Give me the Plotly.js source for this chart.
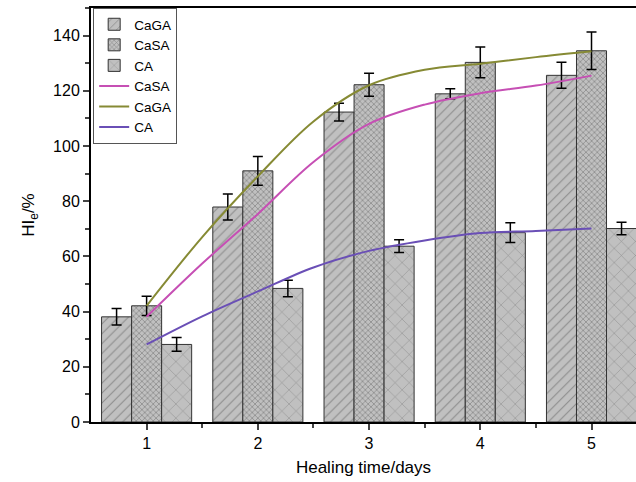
<!DOCTYPE html>
<html><head><meta charset="utf-8">
<script src="https://cdn.plot.ly/plotly-3.0.1.min.js"></script>
<style>html,body{margin:0;padding:0;background:#fff;}#chart{width:636px;height:482px;}</style>
</head><body><div id="chart"></div>
<script>
const days = [1, 2, 3, 4, 5];
const caGA = [38.1, 77.9, 112.3, 118.9, 125.6];
const caGAErr = [3.0, 4.7, 3.2, 1.8, 4.7];
const caSA = [42.1, 91.0, 122.2, 130.3, 134.5];
const caSAErr = [3.5, 5.2, 4.2, 5.6, 6.8];
const cA = [28.1, 48.4, 63.7, 68.6, 70.1];
const cAErr = [2.5, 3.0, 2.3, 3.6, 2.3];

const fitX = [1, 1.5, 2, 2.5, 3, 3.5, 4, 4.5, 5];
const fitCaSA = [38.1, 57.4, 75.4, 94.2, 108.0, 115.0, 119.1, 121.9, 125.5];
const fitCaGA = [42.1, 67.0, 89.0, 108.9, 122.0, 127.6, 129.8, 132.2, 134.3];
const fitCA = [28.1, 38.3, 47.3, 56.0, 62.0, 65.8, 68.5, 69.2, 70.1];

const barLine = {color: '#333333', width: 1};
function barTrace(name, y, err, shape, size, solidity, fg) {
  return {
    type: 'bar', name: name, x: days, y: y,
    marker: {color: '#c0c0c0', line: barLine,
      pattern: {shape: shape, size: size, solidity: solidity, fgcolor: fg, bgcolor: '#c0c0c0', fillmode: 'overlay'}},
    error_y: {type: 'data', array: err, visible: true, color: '#000000', thickness: 1.5, width: 5}
  };
}
function lineTrace(name, y, color) {
  return {type: 'scatter', mode: 'lines', name: name, x: fitX, y: y,
    line: {color: color, width: 2, shape: 'spline', smoothing: 1}};
}
const data = [
  barTrace('CaGA', caGA, caGAErr, '/', 7, 0.15, '#555555'),
  barTrace('CaSA', caSA, caSAErr, 'x', 4, 0.35, '#555555'),
  barTrace('CA', cA, cAErr, 'x', 10, 0.1, '#555555'),
  lineTrace('CaSA', fitCaSA, '#c64fb4'),
  lineTrace('CaGA', fitCaGA, '#868a34'),
  lineTrace('CA', fitCA, '#6a4fb6')
];
const layout = {
  width: 636, height: 482,
  margin: {l: 91, r: 0, t: 8, b: 60},
  paper_bgcolor: '#ffffff', plot_bgcolor: '#ffffff',
  font: {family: 'Liberation Sans, Arial, sans-serif', color: '#000000', size: 16},
  barmode: 'group', bargap: 0.19, bargroupgap: 0,
  showlegend: true,
  legend: {x: 0.004, y: 1, xanchor: 'left', yanchor: 'top', bgcolor: '#ffffff',
    bordercolor: '#555555', borderwidth: 1, font: {size: 13.5}, tracegroupgap: 0,
    traceorder: 'normal', itemwidth: 30},
  xaxis: {range: [0.5, 5.4], tickvals: days, ticks: 'outside', ticklen: 6, tickwidth: 2,
    showline: true, linewidth: 2, linecolor: '#000000', mirror: true, showgrid: false, zeroline: false,
    minor: {tickvals: [1.5, 2.5, 3.5, 4.5], ticks: 'outside', ticklen: 4, tickwidth: 2, showgrid: false},
    title: {text: 'Healing time/days', font: {size: 17}, standoff: 10}},
  yaxis: {range: [0, 150], tickvals: [0, 20, 40, 60, 80, 100, 120, 140], ticks: 'outside', ticklen: 6, tickwidth: 2,
    showline: true, linewidth: 2, linecolor: '#000000', showgrid: false, zeroline: false,
    minor: {dtick: 10, ticks: 'outside', ticklen: 4, tickwidth: 2, showgrid: false},
    title: {text: 'HI<sub>e</sub>/%', font: {size: 17}, standoff: 14}}
};
Plotly.newPlot('chart', data, layout, {displayModeBar: false});
</script></body></html>
